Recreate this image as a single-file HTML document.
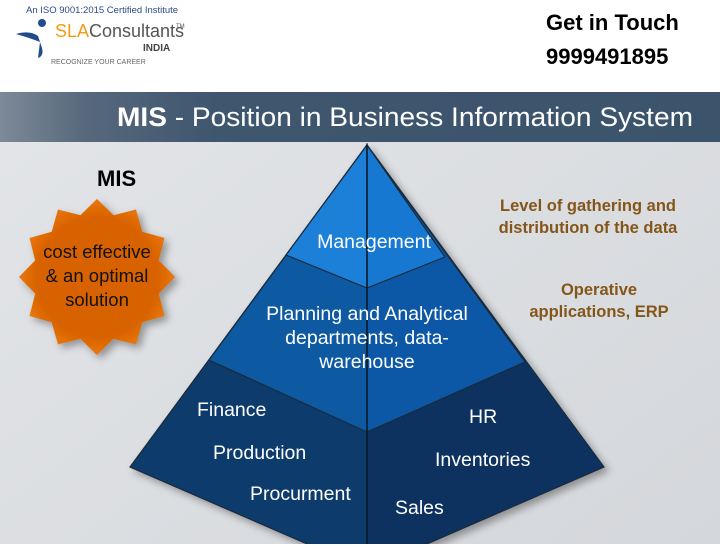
<!DOCTYPE html>
<html><head><meta charset="utf-8"><style>
body{margin:0;width:720px;height:544px;overflow:hidden;font-family:"Liberation Sans",sans-serif;}
</style></head><body>
<svg width="720" height="544" viewBox="0 0 720 544" xmlns="http://www.w3.org/2000/svg" font-family="Liberation Sans, sans-serif">
<defs>
<linearGradient id="hdr" x1="0" x2="1" y1="0" y2="0">
<stop offset="0" stop-color="#7d8a98"/><stop offset="0.12" stop-color="#56687c"/><stop offset="0.3" stop-color="#3f566f"/><stop offset="1" stop-color="#3c536c"/></linearGradient>
<linearGradient id="bg" x1="0" x2="1" y1="0" y2="1">
<stop offset="0" stop-color="#e4e6e9"/><stop offset="1" stop-color="#d4d7db"/></linearGradient>
<radialGradient id="star" cx="0.5" cy="0.5" r="0.55"><stop offset="0.7" stop-color="#d86200"/><stop offset="1" stop-color="#f08010"/></radialGradient>
<filter id="sh" x="-20%" y="-20%" width="140%" height="140%"><feDropShadow dx="4" dy="4" stdDeviation="4" flood-color="#000" flood-opacity="0.35"/></filter>
</defs>
<rect width="720" height="544" fill="url(#bg)"/>
<rect width="720" height="92" fill="#fff"/>
<rect y="92" width="720" height="50" fill="url(#hdr)"/>
<!-- logo -->
<text x="26" y="13" font-size="9.5" fill="#2c4a8a">An ISO 9001:2015 Certified Institute</text>
<path d="M16 34 Q30 30 38 36 L42 48 Q44 56 38 58 L40 42 Q30 38 16 34Z" fill="#1e4c8c"/>
<circle cx="42" cy="23" r="4" fill="#1e4c8c"/>
<text x="55" y="37" font-size="18" fill="#f39c12">SLA</text>
<text x="89" y="37" font-size="18" fill="#555">Consultants</text>
<text x="176" y="28" font-size="6" fill="#555">TM</text>
<text x="143" y="51" font-size="10" font-weight="bold" fill="#444">INDIA</text>
<text x="51" y="64" font-size="7" fill="#666">RECOGNIZE YOUR CAREER</text>
<text x="546" y="30" font-size="22" font-weight="bold" fill="#000">Get in Touch</text>
<text x="546" y="64" font-size="22" font-weight="bold" fill="#000">9999491895</text>
<text x="117" y="126" font-size="27" fill="#fff" textLength="576" lengthAdjust="spacingAndGlyphs"><tspan font-weight="bold">MIS</tspan> - Position in Business Information System</text>
<text x="97" y="186" font-size="22" font-weight="bold" fill="#000">MIS</text>
<!-- star -->
<g filter="url(#sh)">
<polygon fill="url(#star)" points="97,199 113.6,215.2 136,209.5 142.3,231.7 164.5,238 158.8,260.4 175,277 158.8,293.6 164.5,316 142.3,322.3 136,344.5 113.6,338.8 97,355 80.4,338.8 58,344.5 51.7,322.3 29.5,316 35.2,293.6 19,277 35.2,260.4 29.5,238 51.7,231.7 58,209.5 80.4,215.2"/>
</g>
<g font-size="18.5" fill="#111" text-anchor="middle">
<text x="97" y="258">cost effective</text>
<text x="97" y="282">&amp; an optimal</text>
<text x="97" y="306">solution</text>
</g>
<!-- pyramid -->
<g filter="url(#sh)" stroke="#1a2a3a" stroke-width="1.2">
<polygon points="367,145 130,467 367,570" fill="#0a3a6c"/>
<polygon points="367,145 604,467 367,570" fill="#07335f"/>
<polygon points="367,145 209,360 367,432" fill="#0f5aa3"/>
<polygon points="367,145 525,362 367,432" fill="#0d58a6"/>
<polygon points="367,145 286,255 367,288" fill="#1a80d8"/>
<polygon points="367,145 445,257 367,288" fill="#1478d0"/>
</g>
<line x1="367" y1="145" x2="367" y2="544" stroke="#0a1a2a" stroke-width="1.5"/>
<g fill="#fff" font-size="19.5">
<text x="374" y="248" text-anchor="middle">Management</text>
<text x="367" y="320" text-anchor="middle">Planning and Analytical</text>
<text x="367" y="344" text-anchor="middle">departments, data-</text>
<text x="367" y="368" text-anchor="middle">warehouse</text>
<text x="197" y="416">Finance</text>
<text x="213" y="459">Production</text>
<text x="250" y="500">Procurment</text>
<text x="469" y="423">HR</text>
<text x="435" y="466">Inventories</text>
<text x="395" y="514">Sales</text>
</g>
<g fill="#85561a" font-size="16.5" font-weight="bold" text-anchor="middle">
<text x="588" y="211">Level of gathering and</text>
<text x="588" y="233">distribution of the data</text>
<text x="599" y="295">Operative</text>
<text x="599" y="317">applications, ERP</text>
</g>
</svg>
</body></html>
